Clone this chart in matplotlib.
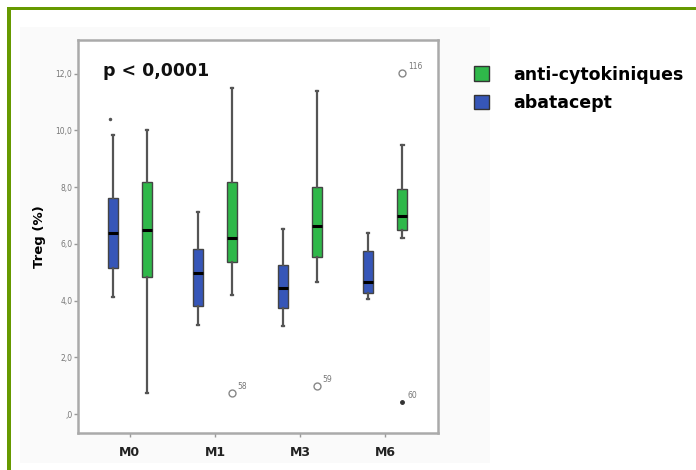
import matplotlib
matplotlib.use('Agg')
import matplotlib.pyplot as plt
from matplotlib.patches import Patch, Rectangle

# groups and read-off box statistics (Treg %)
visits = ["M0", "M1", "M3", "M6"]
series = ["abatacept", "anti-cytokiniques"]

abata_whislo = [4.13, 3.14, 3.10, 4.06]
abata_q1 = [5.15, 3.81, 3.74, 4.27]
abata_med = [6.38, 4.97, 4.45, 4.66]
abata_q3 = [7.62, 5.82, 5.26, 5.74]
abata_whishi = [9.84, 7.13, 6.51, 6.38]

anti_whislo = [0.74, 4.20, 4.66, 6.20]
anti_q1 = [4.83, 5.36, 5.54, 6.49]
anti_med = [6.49, 6.20, 6.63, 6.98]
anti_q3 = [8.18, 8.18, 8.00, 7.93]
anti_whishi = [10.0, 11.5, 11.4, 9.49]

# outliers: visit index, series, value, label, kind
out_visit = [0, 1, 2, 3, 3]
out_series = ["abatacept", "anti-cytokiniques", "anti-cytokiniques",
              "anti-cytokiniques", "anti-cytokiniques"]
out_value = [10.4, 0.74, 0.99, 12.03, 0.42]
out_label = ["", "58", "59", "116", "60"]
out_kind = ["extreme", "circle", "circle", "circle", "extreme"]

yticks = [0, 2, 4, 6, 8, 10, 12]
ytick_labels = [",0", "2,0", "4,0", "6,0", "8,0", "10,0", "12,0"]

colors = {"abatacept": "#3656b8", "anti-cytokiniques": "#2fb84a"}
offsets = {"abatacept": -0.2, "anti-cytokiniques": 0.2}

fig = plt.figure(figsize=(6.96, 4.70), dpi=100)

# faint panel and green frame
fig.add_artist(Rectangle((20 / 696, 7 / 470), 470 / 696, 436 / 470,
                         transform=fig.transFigure, facecolor="#fafafa",
                         edgecolor="none", zorder=0))
fig.add_artist(Rectangle((7 / 696, 460 / 470), 689 / 696, 3.5 / 470,
                         transform=fig.transFigure, facecolor="#669900",
                         edgecolor="none"))
fig.add_artist(Rectangle((7 / 696, 0), 3.5 / 696, 463 / 470,
                         transform=fig.transFigure, facecolor="#669900",
                         edgecolor="none"))

ax = fig.add_axes([78 / 696, 37 / 470, 360 / 696, 393 / 470])
ax.set_facecolor("white")


def stats(lo, q1, med, q3, hi):
    return [dict(whislo=a, q1=b, med=c, q3=d, whishi=e, fliers=[])
            for a, b, c, d, e in zip(lo, q1, med, q3, hi)]


groups = {
    "abatacept": stats(abata_whislo, abata_q1, abata_med, abata_q3, abata_whishi),
    "anti-cytokiniques": stats(anti_whislo, anti_q1, anti_med, anti_q3, anti_whishi),
}

for name in series:
    pos = [i + offsets[name] for i in range(len(visits))]
    ax.bxp(groups[name], positions=pos, widths=0.12, patch_artist=True,
           showfliers=False,
           boxprops=dict(facecolor=colors[name], edgecolor="#444444", linewidth=1),
           medianprops=dict(color="black", linewidth=2.2),
           whiskerprops=dict(color="#555555", linewidth=1.6),
           capprops=dict(color="#555555", linewidth=1.6),
           capwidths=0.03)

for v, s, val, lab, kind in zip(out_visit, out_series, out_value, out_label, out_kind):
    x = v + offsets[s]
    if kind == "circle":
        ax.plot(x, val, "o", markersize=5, markerfacecolor="white",
                markeredgecolor="#888888", markeredgewidth=1)
    elif s == "abatacept":
        ax.plot(x - 0.03, val, "o", markersize=1.5, color="#555555")
    else:
        ax.plot(x, val, "o", markersize=2.5, color="#333333")
    if lab:
        ax.annotate(lab, (x, val), xytext=(4, 3), textcoords="offset points",
                    fontsize=5.5, color="#777777")

ax.text(0.07, 0.945, "p < 0,0001", transform=ax.transAxes, fontsize=12.5,
        fontweight="bold", va="top", color="#111111")

ax.set_xlim(-0.61, 3.62)
ax.set_ylim(-0.67, 13.19)
ax.set_xticks(range(len(visits)))
ax.set_xticklabels(visits, fontsize=9, fontweight="bold", color="#222222")
ax.set_yticks(yticks)
ax.set_yticklabels(ytick_labels, fontsize=5.5, color="#777777")
ax.tick_params(axis="y", length=3, width=1, color="#999999", pad=1)
ax.tick_params(axis="x", length=3, width=1, color="#999999", pad=6)
ax.set_ylabel("Treg (%)", fontsize=9.5, fontweight="bold", labelpad=7)
for sp in ax.spines.values():
    sp.set_color("#aaaaaa")
    sp.set_linewidth(1.8)

handles = [Patch(facecolor=colors["anti-cytokiniques"], edgecolor="#333333"),
           Patch(facecolor=colors["abatacept"], edgecolor="#333333")]
fig.legend(handles, ["anti-cytokiniques", "abatacept"],
           loc="upper left", bbox_to_anchor=(458 / 696, 1 - 50 / 470),
           frameon=False, prop=dict(size=12.5, weight="bold"),
           handlelength=0.9, handleheight=0.9, handletextpad=1.4,
           labelspacing=0.6)

fig.savefig("out.png", dpi=100)
